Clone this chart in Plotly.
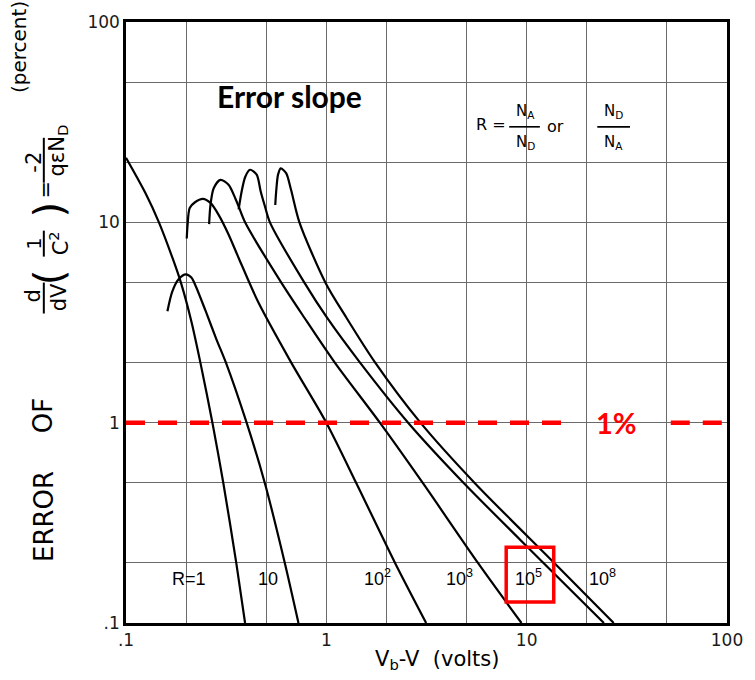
import plotly.graph_objects as go

# ---------------- data ----------------
curve_names = ["R=1", "R=10", "R=10^2", "R=10^3", "R=10^5", "R=10^8"]

v_r1 = [0.1, 0.125, 0.146, 0.171, 0.188, 0.212, 0.235, 0.27, 0.306, 0.355, 0.393]
e_r1 = [21, 14, 10, 6.6, 5.0, 3.2, 2.0, 1.0, 0.5, 0.2, 0.1]

v_r10 = [0.161, 0.17, 0.183, 0.199, 0.212, 0.223, 0.25, 0.283, 0.315, 0.4, 0.493, 0.62, 0.726]
e_r10 = [3.6, 4.5, 5.2, 5.5, 5.3, 4.8, 3.6, 2.6, 2.0, 1.0, 0.5, 0.2, 0.1]

v_r1e2 = [0.201, 0.203, 0.208, 0.221, 0.242, 0.264, 0.29, 0.325, 0.365, 0.457, 0.667, 1.0, 1.41, 2.2, 3.15]
e_r1e2 = [8.3, 9.75, 11.8, 12.6, 13.1, 12.5, 10.9, 8.7, 6.64, 4.0, 2.0, 1.0, 0.5, 0.2, 0.1]

v_r1e3 = [0.26, 0.264, 0.274, 0.296, 0.325, 0.351, 0.365, 0.393, 0.596, 0.777, 1.1, 1.85, 3.03, 5.7, 9.42]
e_r1e3 = [9.8, 12.2, 14.8, 16.3, 15.4, 13.2, 12.0, 10.0, 5.0, 3.34, 2.0, 1.0, 0.5, 0.2, 0.1]

v_r1e5 = [0.365, 0.378, 0.394, 0.416, 0.449, 0.47, 0.494, 0.523, 0.777, 1.008, 1.47, 2.56, 4.85, 12.1, 24.3]
e_r1e5 = [11.6, 14.3, 16.9, 18.3, 17.3, 14.3, 12.0, 10.0, 5.0, 3.34, 2.0, 1.0, 0.5, 0.2, 0.1]

v_r1e8 = [0.556, 0.562, 0.574, 0.592, 0.63, 0.667, 0.734, 0.99, 1.26, 1.75, 2.95, 5.5, 13.7, 27.2]
e_r1e8 = [12.2, 14.3, 17.3, 18.6, 17.6, 14.5, 10.0, 5.0, 3.34, 2.0, 1.0, 0.5, 0.2, 0.1]

threshold_pct = 1.0
threshold_x_seg1 = [0.1, 14.9]
threshold_x_seg2 = [52.4, 100]

major_vals = [0.1, 1, 10, 100]
major_text = [".1", "1", "10", "100"]
minor_vals = [0.2, 0.5, 2, 5, 20, 50]

r_labels = ["R=1", "10", "10<sup>2</sup>", "10<sup>3</sup>", "10<sup>5</sup>", "10<sup>8</sup>"]

# ---------------- figure ----------------
W, H = 755, 680
L, RR, T, B = 126, 733, 21, 623


def px(x):
    return (x - L) / (RR - L)


def py(y):
    return (B - y) / (B - T)


fig = go.Figure()

series = [(v_r1, e_r1), (v_r10, e_r10), (v_r1e2, e_r1e2),
          (v_r1e3, e_r1e3), (v_r1e5, e_r1e5), (v_r1e8, e_r1e8)]
for name, (xs, ys) in zip(curve_names, series):
    fig.add_trace(go.Scatter(x=xs, y=ys, mode="lines", name=name,
                             line=dict(color="black", width=2.2, shape="spline", smoothing=0.8),
                             showlegend=False, hoverinfo="skip"))

for seg in (threshold_x_seg1, threshold_x_seg2):
    fig.add_trace(go.Scatter(x=seg, y=[threshold_pct] * 2, mode="lines",
                             line=dict(color="#ff0000", width=4.5, dash="19px,13px"),
                             showlegend=False, hoverinfo="skip"))

axis_common = dict(type="log", tickvals=major_vals, ticktext=major_text,
                   showgrid=True, gridcolor="#6a6a6a", gridwidth=1,
                   minor=dict(tickvals=minor_vals, showgrid=True, gridcolor="#6a6a6a",
                              gridwidth=1, ticks=""),
                   showline=True, linecolor="black", linewidth=2.5, mirror=True,
                   ticks="", zeroline=False,
                   tickfont=dict(family="DejaVu Sans", size=17, color="#1a1a1a"))
fig.update_xaxes(range=[-1, 2], **axis_common)
fig.update_yaxes(range=[-1, 2], **axis_common)

shapes = []
# white boxes hiding grid behind labels
shapes.append(dict(type="rect", xref="paper", yref="paper", layer="between",
                   x0=px(186), x1=px(395), y0=py(127), y1=py(60),
                   fillcolor="white", line=dict(width=0)))
shapes.append(dict(type="rect", xref="paper", yref="paper", layer="between",
                   x0=px(478), x1=px(640), y0=py(156), y1=py(97),
                   fillcolor="white", line=dict(width=0)))
# red box around 10^5
shapes.append(dict(type="rect", xref="paper", yref="paper",
                   x0=px(510), x1=px(558), y0=py(602), y1=py(547),
                   line=dict(color="#ff0000", width=3.5)))
# fraction bars (R formula)
for x0, x1 in ((513, 544), (602, 635)):
    shapes.append(dict(type="line", xref="paper", yref="paper",
                       x0=px(x0), x1=px(x1), y0=py(126), y1=py(126),
                       line=dict(color="black", width=1.6)))
# fraction bars (y title, vertical)
for y0, y1 in ((282, 313), (230, 256), (137, 182)):
    shapes.append(dict(type="line", xref="paper", yref="paper",
                       x0=px(43), x1=px(43), y0=py(y0), y1=py(y1),
                       line=dict(color="black", width=2)))

ann = []


def add(text, x, y, size, family="DejaVu Sans", angle=0, color="black", bold=False):
    if bold:
        text = "<b>" + text + "</b>"
    ann.append(dict(text=text, x=px(x), y=py(y), xref="paper", yref="paper",
                    showarrow=False, xanchor="center", yanchor="middle",
                    textangle=angle, font=dict(family=family, size=size, color=color)))


# title label and 1%
add("Error slope", 291, 95, 30, family="Lato", bold=True)
add("1%", 621, 422, 29, family="Lato", bold=True, color="#ff0000")

# R formula
add("R =", 495, 124, 16)
add("N<sub>A</sub>", 529, 111, 15)
add("N<sub>D</sub>", 529, 142, 15)
add("or", 560, 126, 16)
add("N<sub>D</sub>", 618, 111, 15)
add("N<sub>A</sub>", 618, 142, 15)

# curve labels
label_pos = [(190, 579), (269, 579), (380, 577), (463, 577), (533, 577), (607, 577)]
for t, (x, y) in zip(r_labels, label_pos):
    add(t, x, y, 18, family="Liberation Sans Narrow, Liberation Sans, sans-serif")

# x title
add("V<sub>b</sub>-V  (volts)", 440, 660, 21)

# y title pieces (rotated)
add("ERROR", 43, 516, 26, angle=-90)
add("OF", 43, 415, 26, angle=-90)
add("d", 32, 295, 21, angle=-90)
add("dV", 58, 297, 21, angle=-90)
add("(", 48, 277, 40, angle=-90)
add("1", 33, 243, 19, angle=-90)
add("C<sup>2</sup>", 58, 243, 21, angle=-90)
add(")", 48, 209, 40, angle=-90)
add("=", 45, 189, 21, angle=-90)
add("-2", 33, 161, 21, angle=-90)
add("q\u03b5N<sub>D</sub>", 57, 150, 21, angle=-90)
add("(percent)", 18, 46, 20, angle=-90)

fig.update_layout(width=W, height=H, autosize=False,
                  margin=dict(l=L, r=W - RR, t=T, b=H - B, pad=0),
                  plot_bgcolor="white", paper_bgcolor="white",
                  shapes=shapes, annotations=ann)

fig.write_html("out.html", config={"displayModeBar": False},
               post_script="document.body.style.margin='0';")
